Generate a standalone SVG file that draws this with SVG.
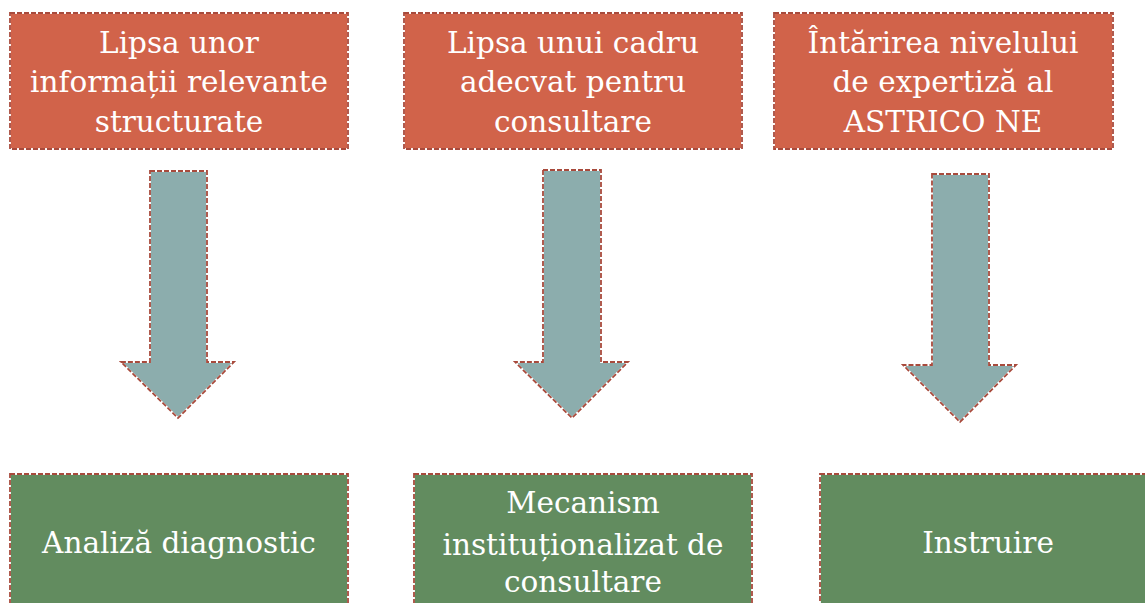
<svg xmlns="http://www.w3.org/2000/svg" width="1145" height="603" viewBox="0 0 1145 603">
<style>
.bg{stroke:#ffffff;stroke-width:1.8}
.dash{fill:none;stroke:#a84a3c;stroke-width:1.8;stroke-dasharray:5 2}
.top{fill:#d1634a}
.bot{fill:#628c5f}
.arr{fill:#8cadad}
text{font-family:"DejaVu Serif","Liberation Serif",serif;font-size:29.5px;fill:#ffffff;text-anchor:middle}
</style>
<rect width="1145" height="603" fill="#ffffff"/>
<g id="n1">
<rect class="top bg" x="10" y="13" width="338" height="136"/>
<rect class="dash" x="10" y="13" width="338" height="136"/>
<text x="179" y="53">Lipsa unor</text>
<text x="179" y="92">informații relevante</text>
<text x="179" y="132">structurate</text>
</g>
<g id="n2">
<rect class="top bg" x="404" y="13" width="338" height="136"/>
<rect class="dash" x="404" y="13" width="338" height="136"/>
<text x="573" y="53">Lipsa unui cadru</text>
<text x="573" y="92">adecvat pentru</text>
<text x="573" y="132">consultare</text>
</g>
<g id="n3">
<rect class="top bg" x="774" y="13" width="339" height="136"/>
<rect class="dash" x="774" y="13" width="339" height="136"/>
<text x="943" y="53">Întărirea nivelului</text>
<text x="943" y="92">de expertiză al</text>
<text x="943" y="132">ASTRICO NE</text>
</g>
<g id="n4">
<rect class="bot bg" x="10" y="474" width="338" height="140"/>
<rect class="dash" x="10" y="474" width="338" height="140"/>
<text x="179" y="553">Analiză diagnostic</text>
</g>
<g id="n5">
<rect class="bot bg" x="414" y="474" width="338" height="140"/>
<rect class="dash" x="414" y="474" width="338" height="140"/>
<text x="583" y="513">Mecanism</text>
<text x="583" y="555">instituționalizat de</text>
<text x="583" y="592">consultare</text>
</g>
<g id="n6">
<rect class="bot bg" x="820" y="474" width="340" height="140"/>
<rect class="dash" x="820" y="474" width="340" height="140"/>
<text x="988" y="553">Instruire</text>
</g>
<g id="connectors">
<g id="a1">
<polygon class="arr bg" points="150,171 207,171 207,362 234,362 178,418 121,362 150,362"/>
<polygon class="dash" points="150,171 207,171 207,362 234,362 178,418 121,362 150,362"/>
</g>
<g id="a2">
<polygon class="arr bg" points="543,170 601,170 601,362 628,362 572,418 515,362 543,362"/>
<polygon class="dash" points="543,170 601,170 601,362 628,362 572,418 515,362 543,362"/>
</g>
<g id="a3">
<polygon class="arr bg" points="932,174 989,174 989,365 1016,365 960,422 903,365 932,365"/>
<polygon class="dash" points="932,174 989,174 989,365 1016,365 960,422 903,365 932,365"/>
</g>
</g>
</svg>
